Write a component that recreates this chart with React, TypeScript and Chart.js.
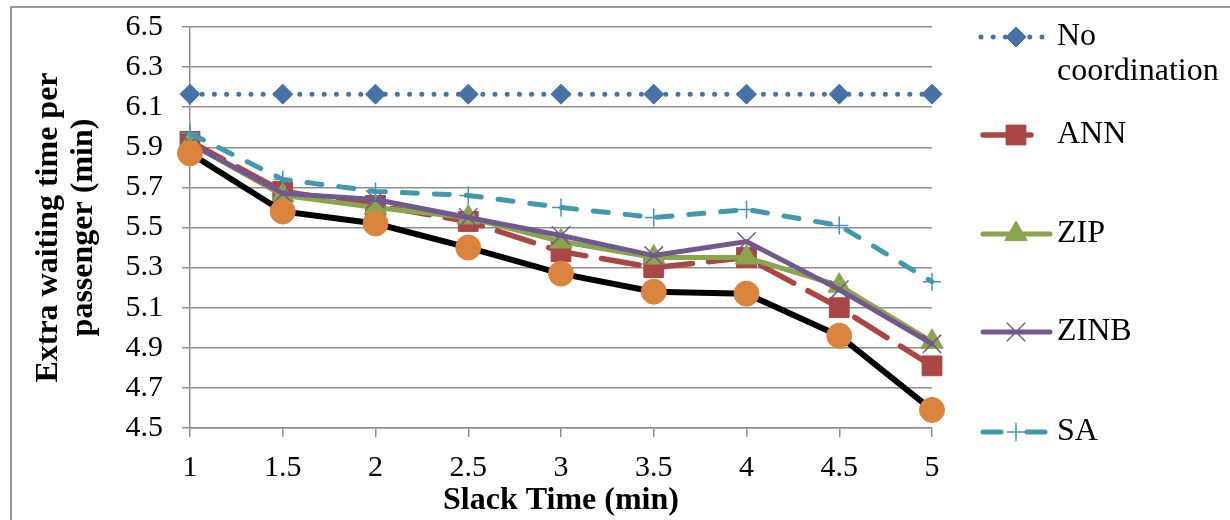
import React, { useEffect, useRef } from 'react';
import { Chart, registerables } from 'chart.js';
import { drawPoint } from 'chart.js/helpers';

Chart.register(...registerables);

// ---- Data ----
const slackTimes = ['1', '1.5', '2', '2.5', '3', '3.5', '4', '4.5', '5'];
const yTicks = [4.5, 4.7, 4.9, 5.1, 5.3, 5.5, 5.7, 5.9, 6.1, 6.3, 6.5];

const noCoordination = [6.165, 6.165, 6.165, 6.165, 6.165, 6.165, 6.165, 6.165, 6.165];
const ann = [5.93, 5.68, 5.61, 5.53, 5.38, 5.30, 5.35, 5.10, 4.81];
const zip = [5.92, 5.66, 5.60, 5.55, 5.43, 5.35, 5.35, 5.21, 4.93];
const zinb = [5.92, 5.67, 5.64, 5.55, 5.46, 5.36, 5.43, 5.19, 4.92];
const sa = [5.97, 5.74, 5.68, 5.66, 5.60, 5.55, 5.59, 5.51, 5.23];
const combined = [5.87, 5.58, 5.52, 5.40, 5.27, 5.18, 5.17, 4.96, 4.59];

const seriesLabels = ['No coordination', 'ANN', 'ZIP', 'ZINB', 'SA'];

const FONT = '"Liberation Serif", "Times New Roman", serif';
const GRID = '#8e8e8e';

const legendRows = [
  { y: 37, x0: 981, x1: 1043, dash: [0, 12.2] },
  { y: 135, x0: 983, x1: 1031, dash: [] as number[] },
  { y: 234, x0: 983, x1: 1050, dash: [] as number[] },
  { y: 332, x0: 983, x1: 1050, dash: [] as number[] },
  { y: 432, x0: 983, x1: 1045, dash: [18, 26] },
];

const framePlugin = {
  id: 'frame',
  beforeDraw(chart: any) {
    const ctx = chart.ctx;
    ctx.save();
    ctx.fillStyle = '#ffffff';
    ctx.fillRect(0, 0, chart.width, chart.height);
    ctx.strokeStyle = '#9a9a9a';
    ctx.lineWidth = 2;
    ctx.beginPath();
    ctx.moveTo(11, chart.height);
    ctx.lineTo(11, 7);
    ctx.lineTo(chart.width, 7);
    ctx.stroke();
    ctx.restore();
  },
};

const sideLegendPlugin = {
  id: 'sideLegend',
  afterDraw(chart: any) {
    const ctx = chart.ctx;
    legendRows.forEach((row, i) => {
      const ds: any = chart.data.datasets[i];
      ctx.save();
      ctx.strokeStyle = ds.borderColor;
      ctx.lineWidth = ds.borderWidth;
      ctx.lineCap = 'round';
      ctx.setLineDash(row.dash);
      ctx.beginPath();
      ctx.moveTo(row.x0, row.y);
      ctx.lineTo(row.x1, row.y);
      ctx.stroke();
      ctx.restore();

      ctx.save();
      ctx.fillStyle = ds.pointBackgroundColor;
      ctx.strokeStyle = ds.pointBorderColor;
      ctx.lineWidth = ds.pointBorderWidth;
      drawPoint(
        ctx,
        { pointStyle: ds.pointStyle, rotation: 0, radius: ds.pointRadius, borderWidth: ds.pointBorderWidth },
        1016,
        row.y
      );
      ctx.restore();

      ctx.save();
      ctx.fillStyle = '#000000';
      ctx.font = `32px ${FONT}`;
      ctx.textBaseline = 'middle';
      ctx.textAlign = 'left';
      const words = String(ds.label).split(' ');
      const lines: string[] = [];
      let cur = '';
      words.forEach((w) => {
        const test = cur ? cur + ' ' + w : w;
        if (cur && ctx.measureText(test).width > 1226 - 1057) {
          lines.push(cur);
          cur = w;
        } else {
          cur = test;
        }
      });
      if (cur) lines.push(cur);
      lines.forEach((l, k) => ctx.fillText(l, 1057, row.y + k * 35));
      ctx.restore();
    });
  },
};

export default function App() {
  const canvasRef = useRef<HTMLCanvasElement | null>(null);

  useEffect(() => {
    if (!canvasRef.current) return;
    const chart = new Chart(canvasRef.current, {
      type: 'line',
      data: {
        labels: slackTimes,
        datasets: [
          {
            label: seriesLabels[0],
            data: noCoordination,
            borderColor: '#4572A7',
            borderWidth: 5,
            borderDash: [0, 12.2],
            borderCapStyle: 'round',
            pointStyle: 'rectRot',
            pointRadius: 10,
            pointBackgroundColor: '#4572A7',
            pointBorderColor: '#4572A7',
            pointBorderWidth: 1,
            order: 5,
          },
          {
            label: seriesLabels[1],
            data: ann,
            borderColor: '#AA4643',
            borderWidth: 5.5,
            borderDash: [38, 16],
            borderCapStyle: 'round',
            pointStyle: 'rect',
            pointRadius: 14,
            pointBackgroundColor: '#AA4643',
            pointBorderColor: '#AA4643',
            pointBorderWidth: 1,
            order: 4,
          },
          {
            label: seriesLabels[2],
            data: zip,
            borderColor: '#89A54E',
            borderWidth: 5,
            borderCapStyle: 'round',
            pointStyle: 'triangle',
            pointRadius: 13,
            pointBackgroundColor: '#89A54E',
            pointBorderColor: '#89A54E',
            pointBorderWidth: 1,
            order: 3,
          },
          {
            label: seriesLabels[3],
            data: zinb,
            borderColor: '#71588F',
            borderWidth: 5,
            borderCapStyle: 'round',
            pointStyle: 'crossRot',
            pointRadius: 13,
            pointBackgroundColor: '#71588F',
            pointBorderColor: '#71588F',
            pointBorderWidth: 1.5,
            order: 2,
          },
          {
            label: seriesLabels[4],
            data: sa,
            borderColor: '#4198AF',
            borderWidth: 5,
            borderDash: [15, 17],
            borderCapStyle: 'round',
            pointStyle: 'cross',
            pointRadius: 9,
            pointBackgroundColor: '#4198AF',
            pointBorderColor: '#4198AF',
            pointBorderWidth: 1.5,
            order: 1,
          },
          {
            label: '',
            data: combined,
            borderColor: '#000000',
            borderWidth: 6,
            borderCapStyle: 'round',
            pointStyle: 'circle',
            pointRadius: 12.5,
            pointBackgroundColor: '#DB843D',
            pointBorderColor: '#DB843D',
            pointBorderWidth: 1,
            order: 0,
          },
        ] as any,
      },
      options: {
        animation: false,
        responsive: false,
        maintainAspectRatio: false,
        layout: { padding: { top: 27, right: 298, bottom: 0, left: 0 } },
        elements: { line: { tension: 0 } },
        plugins: {
          legend: { display: false },
          tooltip: { enabled: false },
        },
        scales: {
          x: {
            type: 'category',
            offset: false,
            grid: { display: true, drawOnChartArea: false, drawTicks: true, tickLength: 9, color: GRID, lineWidth: 1.5 },
            border: { display: true, color: GRID, width: 1.5 },
            ticks: { color: '#000', font: { family: FONT, size: 30 }, padding: 13, maxRotation: 0, autoSkip: false },
            title: {
              display: true,
              text: 'Slack Time (min)',
              color: '#000',
              font: { family: FONT, size: 32, weight: 'bold', lineHeight: 1.2 },
              padding: { top: 0, bottom: 0 },
            },
            afterFit(scale: any) {
              scale.height = 92;
              scale.paddingLeft = 0;
              scale.paddingRight = 0;
            },
          },
          y: {
            type: 'linear',
            min: 4.5,
            max: 6.5,
            afterBuildTicks(scale: any) {
              scale.ticks = yTicks.map((v) => ({ value: v }));
            },
            grid: { color: GRID, lineWidth: 1.5, tickLength: 8, drawTicks: true },
            border: { display: true, color: GRID, width: 1.5 },
            ticks: {
              color: '#000',
              font: { family: FONT, size: 30 },
              padding: 19,
              callback: (v: any) => Number(v).toFixed(1),
            },
            title: {
              display: true,
              text: ['Extra waiting time per', 'passenger (min)'],
              color: '#000',
              font: { family: FONT, size: 32, weight: 'bold', lineHeight: 1.1 },
              padding: { top: 31, bottom: 0 },
            },
            afterFit(scale: any) {
              scale.width = 190;
              scale.paddingTop = 0;
              scale.paddingBottom = 0;
            },
          },
        },
      } as any,
      plugins: [framePlugin, sideLegendPlugin],
    });
    return () => chart.destroy();
  }, []);

  return (
    <div style={{ position: 'absolute', left: 0, top: 0, width: 1230, height: 520 }}>
      <canvas ref={canvasRef} width={1230} height={520} style={{ width: 1230, height: 520, display: 'block' }} />
    </div>
  );
}
